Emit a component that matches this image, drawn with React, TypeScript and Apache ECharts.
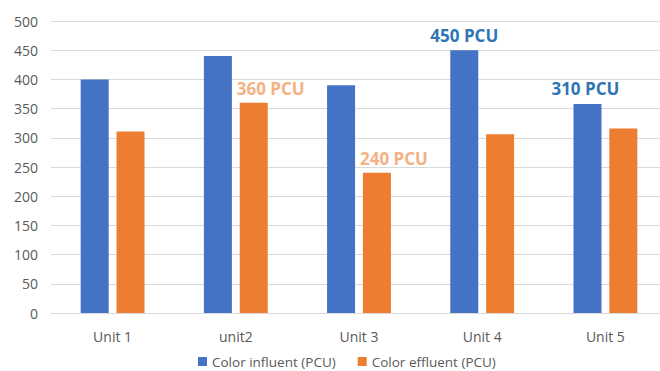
import React, { useEffect, useRef } from "react";
import * as echarts from "echarts";

// Units and measured colour values (PCU)
const categories = ["Unit 1", "unit2", "Unit 3", "Unit 4", "Unit 5"];
const influent = [400, 440, 390, 450, 358];
const effluent = [311, 360, 240, 306, 316];

// Values that carry a callout label above their bar
const influentLabelled = [false, false, false, true, false];
const effluentLabelled = [false, true, true, false, false];

// Free-standing note placed above the Unit 5 influent bar
const noteText = "310 PCU";
const noteCategory = "Unit 5";

const yTicks = [0, 50, 100, 150, 200, 250, 300, 350, 400, 450, 500];

const FONT = "'Open Sans', 'Liberation Sans', sans-serif";
const BLUE = "#4472C4";
const ORANGE = "#ED7D31";
const AXIS_TEXT = "#595959";
const GRID = "#D9D9D9";

export default function App() {
  const ref = useRef<HTMLDivElement>(null);

  useEffect(() => {
    if (!ref.current) return;
    const chart = echarts.init(ref.current, undefined, { renderer: "svg" });

    const labelStyle = (color: string, offsetX: number) => ({
      show: true,
      position: "top" as const,
      distance: 6,
      offset: [offsetX, 0],
      formatter: (p: any) => `${p.value} PCU`,
      color,
      fontFamily: FONT,
      fontWeight: "bold" as const,
      fontSize: 17,
    });

    chart.setOption({
      animation: false,
      textStyle: { fontFamily: FONT },
      grid: { left: 51, right: 0, top: 21, bottom: 58, containLabel: false },
      legend: {
        top: 354,
        left: 198,
        padding: 0,
        itemWidth: 9,
        itemHeight: 9,
        itemGap: 22,
        icon: "rect",
        textStyle: { color: AXIS_TEXT, fontSize: 13.5, lineHeight: 15, fontFamily: FONT },
        data: ["Color influent (PCU)", "Color effluent (PCU)"],
      },
      xAxis: {
        type: "category",
        data: categories,
        axisTick: { show: false },
        axisLine: { lineStyle: { color: GRID } },
        axisLabel: { color: AXIS_TEXT, fontSize: 14, margin: 16, fontFamily: FONT },
      },
      yAxis: {
        type: "value",
        min: yTicks[0],
        max: yTicks[yTicks.length - 1],
        interval: yTicks[1] - yTicks[0],
        axisLabel: { color: AXIS_TEXT, fontSize: 14, margin: 13, fontFamily: FONT },
        splitLine: { lineStyle: { color: GRID } },
        axisLine: { show: false },
        axisTick: { show: false },
      },
      series: [
        {
          name: "Color influent (PCU)",
          type: "bar",
          barWidth: 28,
          barGap: "28%",
          itemStyle: { color: BLUE },
          data: influent.map((v, i) => ({
            value: v,
            label: influentLabelled[i] ? labelStyle("#2E75B6", 0) : { show: false },
          })),
        },
        {
          name: "Color effluent (PCU)",
          type: "bar",
          barWidth: 28,
          itemStyle: { color: ORANGE },
          data: effluent.map((v, i) => ({
            value: v,
            label: effluentLabelled[i] ? labelStyle("#F4B183", 17) : { show: false },
          })),
        },
      ],
    });

    // Place the Unit 5 note above its influent bar using the chart's own scales
    const idx = categories.indexOf(noteCategory);
    const pt = chart.convertToPixel({ gridIndex: 0 }, [noteCategory, influent[idx]]) as number[];
    if (pt) {
      chart.setOption({
        graphic: [
          {
            type: "text",
            x: pt[0] - 20,
            y: pt[1] - 7,
            style: {
              text: noteText,
              fill: "#2E75B6",
              font: `bold 17px ${FONT}`,
              textAlign: "center",
              textVerticalAlign: "bottom",
            },
          },
        ],
      });
    }

    return () => chart.dispose();
  }, []);

  return (
    <div style={{ position: "fixed", left: 0, top: 0, width: 660, height: 371, overflow: "hidden", background: "#fff" }}>
      <div ref={ref} style={{ width: 667, height: 371 }} />
    </div>
  );
}
